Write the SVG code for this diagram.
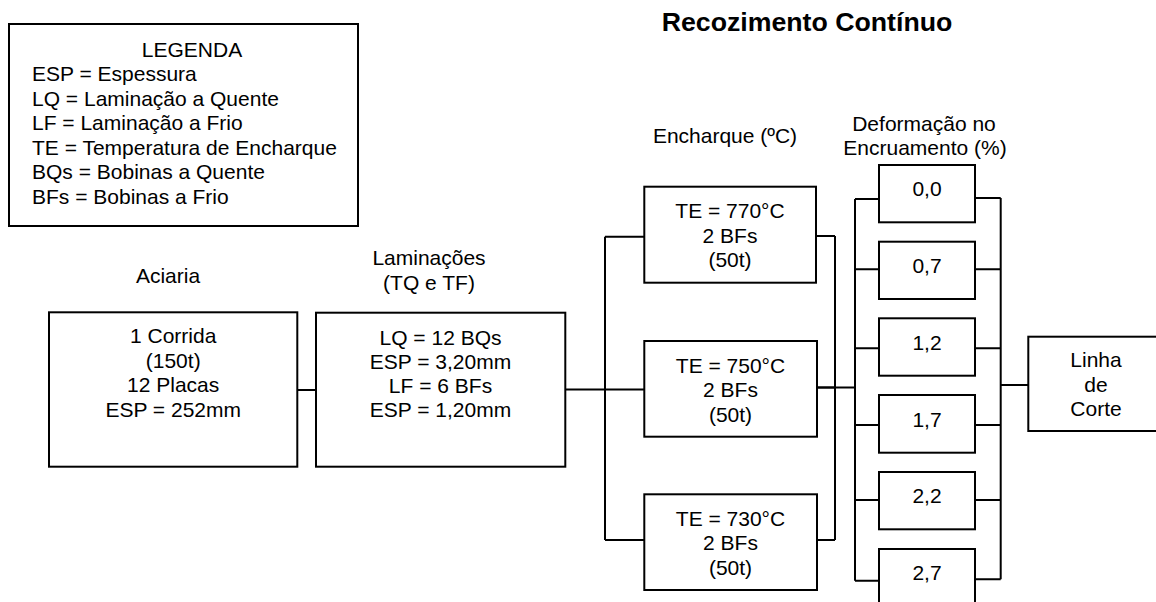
<svg xmlns="http://www.w3.org/2000/svg" width="1156" height="602" viewBox="0 0 1156 602">
<style>
text{font-family:"Liberation Sans",Arial,sans-serif;font-size:21px;fill:#000}
.c{text-anchor:middle}
.title{font-size:26.7px;font-weight:bold}
.box{fill:#fff;stroke:#000;stroke-width:2}
.ln{stroke:#000;stroke-width:2;fill:none}
</style>
<rect width="1156" height="602" fill="#fff"/>
<g id="title"><text class="c title" x="807" y="31">Recozimento Contínuo</text></g>
<g id="legend">
<rect class="box" x="9" y="24" width="349" height="202"/>
<text class="c" x="192" y="56.5">LEGENDA</text>
<text x="32" y="81">ESP = Espessura</text>
<text x="32" y="105.5">LQ = Laminação a Quente</text>
<text x="32" y="130">LF = Laminação a Frio</text>
<text x="32" y="154.5">TE = Temperatura de Encharque</text>
<text x="32" y="179">BQs = Bobinas a Quente</text>
<text x="32" y="203.5">BFs = Bobinas a Frio</text>
</g>
<g id="labels">
<text class="c" x="168" y="282.7">Aciaria</text>
<text class="c" x="429" y="265">Laminações</text>
<text class="c" x="429" y="289.5">(TQ e TF)</text>
<text class="c" x="725" y="143">Encharque (ºC)</text>
<text class="c" x="924" y="130.5">Deformação no</text>
<text class="c" x="925" y="155">Encruamento (%)</text>
</g>
<g id="connectors">
<path class="ln" d="M297 390H316"/>
<path class="ln" d="M565 389.5H644"/>
<path class="ln" d="M605 236.7V540M605 236.7H644M605 540H644"/>
<path class="ln" d="M816 236H835M835 236V540M816 540H835"/>
<path class="ln" d="M817 387.5H855"/>
<path class="ln" stroke-width="3" d="M817 387.5H835"/>
<path class="ln" d="M855 199V580.7M855 199H879M855 269.3H879M855 348.3H879M855 425H879M855 500H879M855 580.7H879"/>
<path class="ln" d="M1000.7 198V579.3M975 198H1000.7M975 269.3H1000.7M975 348.3H1000.7M975 425H1000.7M975 500H1000.7M975 579.3H1000.7"/>
<path class="ln" d="M1000.7 385H1028.3"/>
</g>
<g id="aciaria">
<rect class="box" x="49" y="312.3" width="248.3" height="154.4"/>
<text class="c" x="173.2" y="343.3">1 Corrida</text>
<text class="c" x="173.2" y="367.7">(150t)</text>
<text class="c" x="173.2" y="392.2">12 Placas</text>
<text class="c" x="173.2" y="416.7">ESP = 252mm</text>
</g>
<g id="laminacoes">
<rect class="box" x="316" y="312.7" width="249.3" height="154"/>
<text class="c" x="440.5" y="345">LQ = 12 BQs</text>
<text class="c" x="440.5" y="369">ESP = 3,20mm</text>
<text class="c" x="440.5" y="393.3">LF = 6 BFs</text>
<text class="c" x="440.5" y="416.7">ESP = 1,20mm</text>
</g>
<g id="te770">
<rect class="box" x="644.3" y="186.7" width="171.7" height="96"/>
<text class="c" x="730" y="218">TE = 770°C</text>
<text class="c" x="730" y="242.5">2 BFs</text>
<text class="c" x="730" y="267">(50t)</text>
</g>
<g id="te750">
<rect class="box" x="644.3" y="341" width="172.7" height="95.7"/>
<text class="c" x="730.5" y="372.7">TE = 750°C</text>
<text class="c" x="730.5" y="397">2 BFs</text>
<text class="c" x="730.5" y="421.5">(50t)</text>
</g>
<g id="te730">
<rect class="box" x="644.3" y="494.3" width="172.7" height="95.7"/>
<text class="c" x="730.5" y="525.5">TE = 730°C</text>
<text class="c" x="730.5" y="550">2 BFs</text>
<text class="c" x="730.5" y="574.5">(50t)</text>
</g>
<g id="d00"><rect class="box" x="879" y="165" width="96" height="57.3"/><text class="c" x="927" y="195.5">0,0</text></g>
<g id="d07"><rect class="box" x="879" y="241.7" width="96" height="57.3"/><text class="c" x="927" y="272.5">0,7</text></g>
<g id="d12"><rect class="box" x="879" y="318.3" width="96" height="57.4"/><text class="c" x="927" y="349.5">1,2</text></g>
<g id="d17"><rect class="box" x="879" y="395" width="96" height="57.7"/><text class="c" x="927" y="426.5">1,7</text></g>
<g id="d22"><rect class="box" x="879" y="472" width="96" height="57.3"/><text class="c" x="927" y="503">2,2</text></g>
<g id="d27"><rect class="box" x="879" y="549" width="96" height="57.3"/><text class="c" x="927" y="579.5">2,7</text></g>
<g id="linha">
<rect class="box" x="1028.3" y="336.7" width="135" height="94.3"/>
<text class="c" x="1096" y="366.7">Linha</text>
<text class="c" x="1096" y="391.5">de</text>
<text class="c" x="1096" y="415.7">Corte</text>
</g>
</svg>
